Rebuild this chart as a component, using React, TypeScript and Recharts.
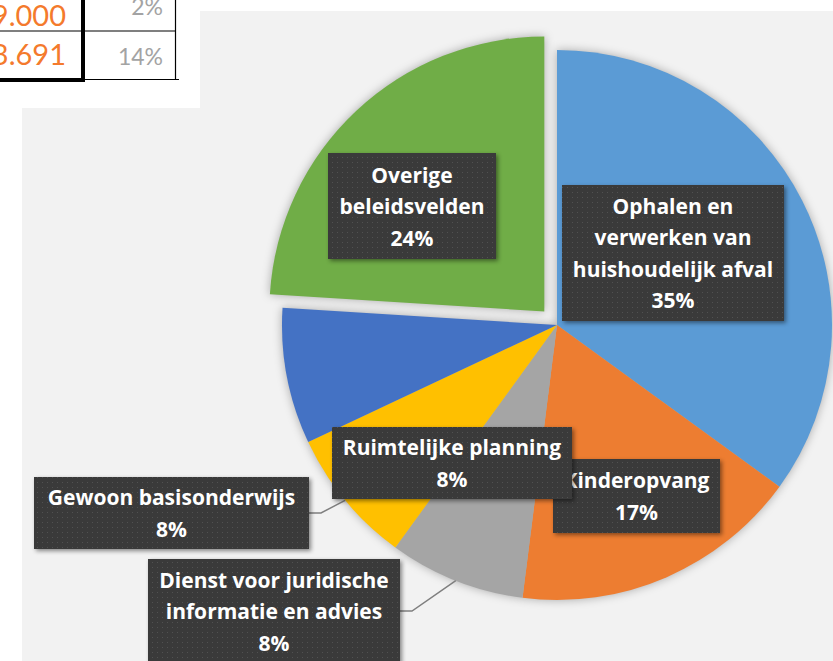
import React from 'react';
import { PieChart, Pie, Cell } from 'recharts';

// pie data (share of total, %)
const CATEGORIES = [
  'Ophalen en verwerken van huishoudelijk afval',
  'Kinderopvang',
  'Dienst voor juridische informatie en advies',
  'Gewoon basisonderwijs',
  'Ruimtelijke planning',
  'Overige beleidsvelden',
];
const SHARES = [35, 17, 8, 8, 8, 24];
const COLORS = ['#5B9BD5', '#ED7D31', '#A5A5A5', '#FFC000', '#4472C4', '#70AD47'];
const LABEL_LINES = [
  ['Ophalen en', 'verwerken van', 'huishoudelijk afval'],
  ['Kinderopvang'],
  ['Dienst voor juridische', 'informatie en advies'],
  ['Gewoon basisonderwijs'],
  ['Ruimtelijke planning'],
  ['Overige', 'beleidsvelden'],
];
const EXPLODED = 'Overige beleidsvelden';

// fragment of the table above the chart
const TABLE_AMOUNTS = ['19.000', '33.691'];
const TABLE_PCTS = ['2%', '14%'];

const data = CATEGORIES.map((name, i) => ({ name, value: SHARES[i] }));

const CX = 557;
const CY = 325;
const R = 275;
const EXPLODE = 18.5;
const RAD = Math.PI / 180;

// label boxes, relative to pie centre
const LABEL_BOX = [
  { dx: 116, dy: -72, w: 222, h: 136, leader: false },
  { dx: 79.5, dy: 171, w: 167, h: 74, leader: false },
  { dx: -283, dy: 286, w: 252, h: 104, leader: true },
  { dx: -385.5, dy: 188, w: 275, h: 72, leader: true },
  { dx: -105, dy: 138, w: 240, h: 72, leader: false },
  { dx: -145, dy: -119, w: 168, h: 106, leader: false },
];
const LINE_H = 31.5;

const total = SHARES.reduce((a, b) => a + b, 0);
const gi = CATEGORIES.indexOf(EXPLODED);
const before = SHARES.slice(0, gi).reduce((a, b) => a + b, 0);
const gMid = 90 - (360 * (before + SHARES[gi] / 2)) / total;
const GX = CX + EXPLODE * Math.cos(gMid * RAD);
const GY = CY - EXPLODE * Math.sin(gMid * RAD);

const css = `
.shadowpie path { filter: blur(5px); }
.greenpie path { filter: drop-shadow(0 0 5px rgba(0,0,0,0.3)); }
`;

const renderLabel = (props: any) => {
  const { cx, cy, midAngle, outerRadius, index, percent } = props;
  const box = LABEL_BOX[index];
  const bx = cx + box.dx;
  const by = cy + box.dy;
  const lines = [...LABEL_LINES[index], `${Math.round(percent * 100)}%`];
  const ex = cx + outerRadius * Math.cos(-midAngle * RAD);
  const ey = cy + outerRadius * Math.sin(-midAngle * RAD);
  const right = bx + box.w / 2;
  return (
    <g key={`lbl-${index}`}>
      {box.leader && (
        <polyline
          points={`${ex},${ey} ${right + 12},${by} ${right},${by}`}
          fill="none"
          stroke="#7f7f7f"
          strokeWidth={1.5}
        />
      )}
      <rect
        x={bx - box.w / 2}
        y={by - box.h / 2}
        width={box.w}
        height={box.h}
        fill="url(#dots)"
        style={{ filter: 'drop-shadow(2px 2px 2px rgba(0,0,0,0.45))' }}
      />
      {lines.map((t, k) => (
        <text
          key={k}
          x={bx}
          y={by + (k - (lines.length - 1) / 2) * LINE_H}
          textAnchor="middle"
          dominantBaseline="central"
          fill="#ffffff"
          fontFamily="'Open Sans', sans-serif"
          fontWeight={700}
          fontSize={21}
        >
          {t}
        </text>
      ))}
    </g>
  );
};

export default function App() {
  return (
    <div style={{ position: 'absolute', left: 0, top: 0, width: 833, height: 661, overflow: 'hidden', background: '#fff' }}>
      <style>{css}</style>
      <svg width={833} height={661} style={{ position: 'absolute', left: 0, top: 0 }}>
        <defs>
          <pattern id="dots" width="5" height="5" patternUnits="userSpaceOnUse">
            <rect width="5" height="5" fill="#3a3a3a" />
            <rect x="2" y="2" width="1" height="1" fill="#515151" />
          </pattern>
        </defs>
        <rect x={200} y={11} width={633} height={650} fill="#f2f2f2" />
        <rect x={22} y={108} width={811} height={553} fill="#f2f2f2" />
        <rect x={81} y={0} width={4} height={82} fill="#000" />
        <rect x={0} y={78} width={85} height={4} fill="#000" />
        <line x1={0} y1={31} x2={176} y2={31} stroke="#000" strokeWidth={1.2} />
        <line x1={175.5} y1={0} x2={175.5} y2={80} stroke="#000" strokeWidth={1.2} />
        <line x1={85} y1={79.5} x2={179} y2={79.5} stroke="#000" strokeWidth={1.2} />
        {TABLE_AMOUNTS.map((t, i) => (
          <text key={t} x={66} y={i === 0 ? 26 : 65} textAnchor="end" fill="#F47A2C"
            fontFamily="Lato, sans-serif" fontSize={29}>{t}</text>
        ))}
        {TABLE_PCTS.map((t, i) => (
          <text key={t} x={163} y={i === 0 ? 15 : 65} textAnchor="end" fill="#a3a3a3"
            fontFamily="Lato, sans-serif" fontSize={23}>{t}</text>
        ))}
      </svg>
      <div style={{ position: 'absolute', left: 0, top: 0 }}>
        <PieChart width={833} height={661} margin={{ top: 0, right: 0, bottom: 0, left: 0 }}>
          <Pie
            className="shadowpie"
            data={data}
            dataKey="value"
            cx={CX}
            cy={CY}
            outerRadius={R}
            startAngle={90}
            endAngle={-270}
            stroke="none"
            label={false}
            labelLine={false}
            isAnimationActive={false}
          >
            {data.map((d, i) => (
              <Cell key={`s-${i}`} fill={d.name === EXPLODED ? 'transparent' : 'rgba(0,0,0,0.3)'} />
            ))}
          </Pie>
          <Pie
            className="greenpie"
            data={data}
            dataKey="value"
            cx={GX}
            cy={GY}
            outerRadius={R}
            startAngle={90}
            endAngle={-270}
            stroke="none"
            label={false}
            labelLine={false}
            isAnimationActive={false}
          >
            {data.map((d, i) => (
              <Cell key={`g-${i}`} fill={d.name === EXPLODED ? COLORS[i] : 'transparent'} />
            ))}
          </Pie>
          <Pie
            data={data}
            dataKey="value"
            cx={CX}
            cy={CY}
            outerRadius={R}
            startAngle={90}
            endAngle={-270}
            stroke="none"
            label={renderLabel}
            labelLine={false}
            isAnimationActive={false}
          >
            {data.map((d, i) => (
              <Cell key={`m-${i}`} fill={d.name === EXPLODED ? 'transparent' : COLORS[i]} />
            ))}
          </Pie>
        </PieChart>
      </div>
    </div>
  );
}
